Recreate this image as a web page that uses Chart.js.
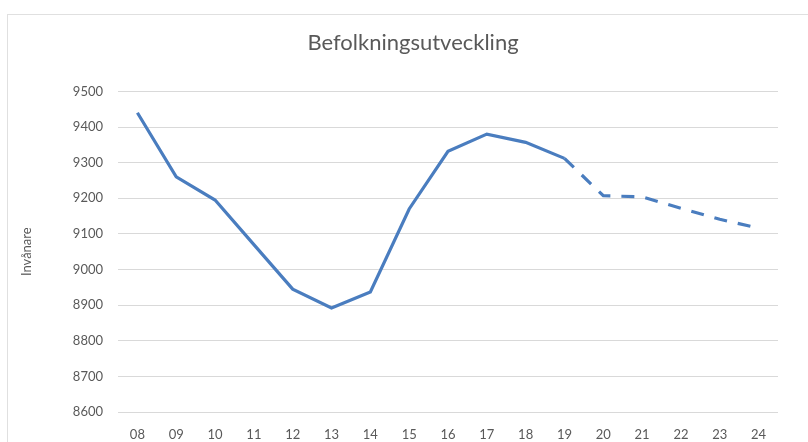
<!DOCTYPE html>
<html>
<head>
<meta charset="utf-8">
<script src="https://cdn.jsdelivr.net/npm/chart.js@4"></script>
<style>
  html, body { margin: 0; padding: 0; background: #fff; overflow: hidden; }
  #frame {
    position: absolute; left: 7px; top: 14px; width: 840px; height: 460px;
    border: 1px solid #e0e0e0; box-sizing: border-box;
  }
  #wrap { position: absolute; left: 0; top: 0; width: 808px; height: 442px; }
</style>
</head>
<body>
<div id="frame"></div>
<div id="wrap"><canvas id="chart" width="808" height="442"></canvas></div>
<script>
const years = ["08", "09", "10", "11", "12", "13", "14", "15", "16", "17", "18", "19", "20", "21", "22", "23", "24"]
const population = [9440, 9260, 9195, 9070, 8945, 8892, 8937, 9170, 9332, 9380, 9357, 9312, 9207, 9204, 9172, 9141, 9116]
// index from which the values are a forecast (dashed line)
const forecastFrom = 11

const textColor = "#595959"
const gridColor = "#d9d9d9"
const lineColor = "#4a7dbf"

new Chart(document.getElementById("chart"), {
  type: "line",
  data: {
    labels: years,
    datasets: [{
      label: "Invånare",
      data: population,
      borderColor: lineColor,
      borderWidth: 3.2,
      pointRadius: 0,
      tension: 0,
      borderCapStyle: "butt",
      segment: {
        borderDash: ctx => ctx.p0DataIndex >= forecastFrom ? [13, 11] : undefined
      }
    }]
  },
  options: {
    responsive: false,
    animation: false,
    layout: { padding: { left: 18, right: 0, top: 0, bottom: 0 } },
    plugins: {
      legend: { display: false },
      tooltip: { enabled: false },
      title: {
        display: true,
        text: "Befolkningsutveckling",
        color: textColor,
        font: { family: "Lato", size: 22, weight: "normal" },
        padding: { top: 30, bottom: 35 }
      }
    },
    scales: {
      x: {
        offset: true,
        grid: { display: false },
        border: { display: false },
        ticks: {
          color: textColor,
          font: { family: "Lato", size: 13 },
          padding: 7,
          maxRotation: 0
        },
        afterFit: scale => { scale.height = 30 }
      },
      y: {
        min: 8600,
        max: 9500,
        grid: { color: gridColor, drawTicks: false },
        border: { display: false },
        ticks: {
          stepSize: 100,
          color: textColor,
          font: { family: "Lato", size: 13 },
          padding: 15,
          callback: v => String(v)
        },
        title: {
          display: true,
          text: "Invånare",
          color: textColor,
          font: { family: "Lato", size: 13 },
          padding: { top: 1, bottom: 0 }
        },
        afterFit: scale => { scale.width = 100 }
      },
      // empty spacer on the right so the plot ends where the reference does
      spacer: {
        position: "right",
        grid: { display: false },
        border: { display: false },
        ticks: { display: false },
        afterFit: scale => { scale.width = 30 }
      }
    }
  }
})
</script>
</body>
</html>
